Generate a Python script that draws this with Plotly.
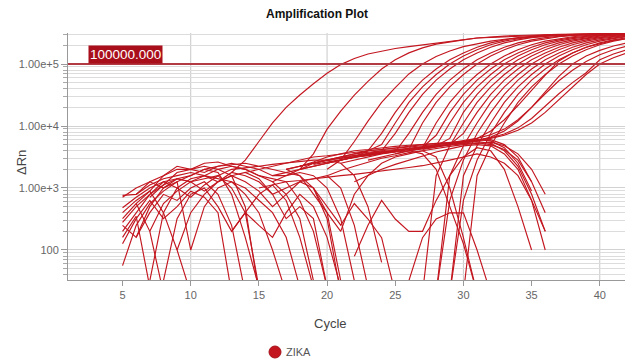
import plotly.graph_objects as go

# ---------------- data (ΔRn per cycle; each entry = (first cycle, values)) ----------------
SERIES_NAME = "ZIKA"
THRESHOLD = 100000
THRESHOLD_LABEL = "100000.000"
CYCLE_TICKS = [5, 10, 15, 20, 25, 30, 35, 40]
CYCLE_GRID = [10, 20, 30, 40]
Y_TICKS = [100, 1000, 10000, 100000]
Y_TICK_LABELS = ["100", "1.00e+3", "1.00e+4", "1.00e+5"]

EARLY_AMP = [
    (13, [1780, 2820, 5620, 11200, 20000, 31600, 47900, 70800, 97700, 123000, 145000, 162000, 178000,
          191000, 204000, 219000, 234000, 251000, 263000, 269000, 275000, 282000, 288000, 295000,
          295000, 302000, 302000, 309000, 309000, 309000]),
    (18, [2000, 3550, 8910, 17400, 31600, 52500, 83200, 117000, 151000, 182000, 209000, 229000, 245000,
          263000, 275000, 282000, 288000, 295000, 295000, 302000, 302000, 302000, 309000, 309000, 309000]),
    (20, [2000, 2820, 5620, 12000, 24000, 41700, 69200, 100000, 132000, 162000, 191000, 214000, 234000,
          251000, 263000, 275000, 282000, 288000, 295000, 295000, 302000, 302000, 302000]),
]

LATE_AMP = [
    (17, [2000, 2240, 2510, 2820, 3160, 3550, 3980, 7590, 16600, 32400, 55000, 83200, 117000, 151000,
          186000, 219000, 245000, 266000, 282000, 292000, 299000, 302000, 305000, 309000, 309000, 309000]),
    (16, [1580, 1780, 2000, 2240, 2510, 2820, 3160, 3980, 5010, 11200, 24000, 42700, 67600, 100000,
          135000, 170000, 204000, 234000, 257000, 275000, 288000, 295000, 302000, 305000, 309000,
          309000, 309000]),
    (18, [2240, 2510, 2820, 3020, 3310, 3550, 3980, 7590, 16600, 32400, 55000, 83200, 117000, 151000,
          186000, 219000, 245000, 266000, 282000, 292000, 299000, 302000, 305000, 309000, 309000]),
    (19, [2400, 2630, 2880, 3160, 3390, 3630, 3800, 7590, 16600, 32400, 55000, 83200, 117000, 151000,
          186000, 219000, 245000, 266000, 282000, 292000, 299000, 302000, 305000, 309000]),
    (18, [2000, 2240, 2510, 2820, 3160, 3310, 3550, 3800, 4170, 11200, 24000, 42700, 67600, 100000,
          135000, 170000, 204000, 234000, 257000, 275000, 288000, 295000, 302000, 305000, 309000]),
    (21, [2820, 3160, 3470, 3720, 3980, 4170, 4470, 11200, 24000, 42700, 67600, 100000, 135000, 170000,
          204000, 234000, 257000, 275000, 288000, 295000, 302000, 305000]),
    (22, [3160, 3470, 3800, 3980, 4270, 4570, 7080, 16600, 32400, 55000, 83200, 117000, 151000, 186000,
          219000, 245000, 266000, 282000, 292000, 299000, 302000]),
    (20, [2510, 2820, 3160, 3550, 3800, 3980, 4170, 4470, 4790, 11200, 24000, 42700, 67600, 100000,
          135000, 170000, 204000, 234000, 257000, 275000, 288000, 295000, 302000]),
    (23, [3550, 3800, 3980, 4270, 4570, 4790, 6310, 16600, 32400, 55000, 83200, 117000, 151000, 186000,
          219000, 245000, 266000, 282000, 292000, 299000]),
    (27, [20, 1580, 4790, 11200, 24000, 42700, 67600, 100000, 135000, 170000, 204000, 234000, 257000,
          275000, 288000, 295000]),
    (21, [3160, 3310, 3550, 3800, 3980, 4170, 4470, 4790, 5010, 7590, 16600, 32400, 55000, 83200,
          117000, 151000, 186000, 219000, 245000, 266000, 282000, 292000]),
    (28, [20, 1580, 4790, 11200, 24000, 42700, 67600, 100000, 135000, 170000, 204000, 234000, 257000,
          275000, 288000]),
    (28, [20, 631, 2820, 7590, 16600, 32400, 55000, 83200, 117000, 151000, 186000, 219000, 245000,
          266000, 282000]),
    (29, [20, 1580, 4790, 11200, 24000, 42700, 67600, 100000, 135000, 170000, 204000, 234000, 257000,
          275000]),
    (29, [20, 631, 2820, 7590, 16600, 32400, 55000, 83200, 117000, 151000, 186000, 219000, 245000,
          266000]),
    (23, [2820, 3160, 3550, 3980, 4270, 4570, 5010, 5500, 6310, 8320, 12600, 21400, 38000, 66100,
          112000, 151000, 186000, 214000, 240000, 257000]),
    (30, [20, 1580, 4790, 11200, 24000, 42700, 67600, 100000, 135000, 170000, 204000, 234000, 257000]),
    (22, [3550, 3800, 3980, 4170, 4370, 4570, 4790, 5010, 5250, 5750, 6610, 8320, 12000, 20000, 35500,
          63100, 100000, 135000, 166000, 195000, 219000]),
    (25, [3550, 3980, 4470, 5010, 5370, 5750, 6310, 7240, 8910, 12600, 20000, 33100, 53700, 79400,
          110000, 141000, 170000, 195000]),
    (26, [3980, 4370, 4790, 5130, 5500, 5890, 6460, 7410, 9330, 13200, 20900, 33100, 50100, 72400,
          117000, 145000, 170000]),
    (27, [4170, 4570, 5010, 5370, 5890, 6310, 7080, 8510, 11200, 16600, 26300, 42700, 67600, 100000,
          126000, 151000]),
]

BAND = [
    (14, [1780, 2000, 2240, 2510, 2820, 3160, 3310, 3550, 3800, 3980, 4170, 4370, 4570, 4790, 5010,
          5250, 5500, 5620, 5250, 3980, 2240, 794, 200]),
    (16, [1260, 1580, 2000, 2510, 2820, 3160, 3550, 3980, 4170, 4470, 4790, 5010, 5250, 5370, 5620,
          5890, 6030, 5010, 3160, 1260]),
    (18, [2240, 2510, 2820, 3020, 3160, 3390, 3630, 3980, 4270, 4570, 4790, 5010, 5250, 5370, 5010,
          4170, 2820, 1260, 400]),
    (20, [1580, 1910, 2240, 2630, 3020, 3310, 3720, 3980, 4370, 4680, 5010, 5250, 5500, 4790, 3550,
          2000, 794]),
    (22, [1260, 1580, 2000, 2400, 2820, 3310, 3800, 4270, 4790, 5010, 4790, 3550, 2000, 631, 100]),
    (15, [1000, 1120, 1260, 1320, 1410, 1510, 1580, 1660, 1780, 1910, 2000, 2140, 2290, 2510, 2820,
          3160, 3550, 3160, 2510, 1580, 631, 200]),
    (17, [2000, 2240, 2630, 3160, 3550, 3980, 4170, 4470, 4680, 4900, 5010, 5250, 5370, 5620, 6030,
          5750, 4470, 2510, 891]),
    (21, [2510, 2820, 3160, 3550, 3800, 3980, 3550, 2000, 501, 126, 20]),
    (22, [79, 251, 631, 316, 200, 200, 631, 1580, 3160, 4470, 3980, 2000, 501, 100]),
    (26, [32, 158, 316, 398, 398, 100, 20]),
    (17, [2000, 1580, 794, 398, 200, 794, 1580, 2510, 3160, 3550, 3980, 3160, 1000, 158, 20]),
    (19, [1000, 501, 251, 562, 316, 158, 20]),
]

NOISE = [
    (5, [760, 790, 1120, 1410, 1580, 1780, 1580, 1410, 1260, 790, 400, 100, 20]),
    (5, [480, 710, 1000, 1260, 1410, 1260, 1580, 2000, 2240, 2000, 1580, 1410, 1260, 630, 200, 25]),
    (5, [200, 400, 790, 1260, 1000, 710, 1120, 1580, 1000, 400, 25]),
    (5, [56, 250, 560, 890, 1260, 1580, 2000, 2240, 2510, 2240, 2000, 1580, 1580, 1780, 1580, 1000,
         320, 32]),
    (5, [320, 560, 200, 20]),
    (6, [160, 500, 1000, 1260, 100, 500, 1000, 1260, 1000, 630, 400, 160, 25]),
    (5, [400, 630, 890, 400, 100, 20]),
    (6, [560, 890, 1580, 2000, 2000, 2240, 2000, 1580, 500, 20]),
    (7, [710, 1120, 1780, 2000, 1780, 2240, 2400, 2510, 2240, 2000, 1780, 1580, 1000, 400, 32]),
    (5, [250, 160, 400, 790, 630, 1000, 1260, 790, 250, 20]),
    (5, [160, 350, 25]),
    (7, [32, 400, 1000, 1410, 1580, 1260, 1780, 1580, 1260, 790, 1000, 1260, 1410, 1580, 1000, 250, 25]),
    (8, [32, 320, 790, 1000, 500, 200, 400, 790, 1120, 630, 160, 25]),
    (5, [710, 1000, 1260, 1000, 1410, 1580, 2000, 1780, 790, 160, 25]),
    (9, [100, 400, 790, 1260, 1580, 1780, 1410, 790, 320, 500, 320, 25]),
    (13, [200, 400, 250, 160, 400, 790, 500, 160, 25]),
    (6, [790, 1260, 1580, 2240, 2000, 2510, 2630, 2240, 2000, 1580, 1260, 790, 320, 32]),
    (5, [126, 320, 630, 320, 500, 890, 710, 400, 20]),
    (7, [200, 560, 890, 1260, 1410, 1580, 2000, 2090, 2240, 2400, 2510, 2630, 2820, 2820, 2510, 1580,
         500, 63]),
    (5, [280, 500, 790, 1120, 1410, 1260, 890, 1260, 1580, 1260, 890, 500, 790, 1260, 1000, 320, 20]),
]

# ---------------- styling ----------------
LINE_COLOR = "#c3161f"
FONT = "Liberation Sans, Arial, sans-serif"
W, H = 625, 362
ML, MR, MT, MB = 68, 0, 33, 82
PW, PH = W - ML - MR, H - MT - MB


def px_x(p):
    return (p - ML) / PW


def px_y(p):
    return (H - MB - p) / PH


fig = go.Figure()

for group in (NOISE, BAND, EARLY_AMP, LATE_AMP):
    for start, vals in group:
        fig.add_trace(go.Scatter(
            x=list(range(start, start + len(vals))), y=vals, mode="lines",
            line=dict(color=LINE_COLOR, width=1.15), hoverinfo="skip", showlegend=False,
        ))

minor_vals = [m * 10 ** e for e in range(1, 6) for m in range(2, 10)]

fig.update_layout(
    width=W, height=H, margin=dict(l=ML, r=MR, t=MT, b=MB),
    paper_bgcolor="white", plot_bgcolor="white", showlegend=False,
    font=dict(family=FONT, color="#555", size=11),
    xaxis=dict(range=[1.0, 41.85], tickvals=CYCLE_TICKS, ticks="outside", ticklen=5,
               tickcolor="#999", showline=True, linecolor="#999", showgrid=False,
               zeroline=False, tickfont=dict(size=11, color="#666")),
    yaxis=dict(type="log", range=[1.516, 5.5], tickvals=Y_TICKS, ticktext=Y_TICK_LABELS,
               ticks="outside", ticklen=6, tickcolor="#999", showline=True, linecolor="#999",
               showgrid=True, gridcolor="#d2d2d2", zeroline=False,
               tickfont=dict(size=11, color="#666"),
               minor=dict(tickvals=minor_vals, ticks="outside", ticklen=4, tickcolor="#aaa",
                          showgrid=True, gridcolor="#dcdcdc")),
)

shapes = []
for g in CYCLE_GRID:
    shapes.append(dict(type="line", xref="x", yref="paper", x0=g, x1=g, y0=0, y1=1,
                       line=dict(color="#c8c8c8", width=1), layer="below"))
shapes.append(dict(type="line", xref="paper", yref="y", x0=0, x1=1, y0=THRESHOLD, y1=THRESHOLD,
                   line=dict(color="#b23a43", width=2), layer="above"))
# legend marker
shapes.append(dict(type="circle", xref="paper", yref="paper", xsizemode="pixel", ysizemode="pixel",
                   xanchor=px_x(275), yanchor=px_y(352), x0=-6, x1=6, y0=-6, y1=6,
                   fillcolor=LINE_COLOR, line=dict(color="#a8121a", width=1)))
fig.update_layout(shapes=shapes)

ann = [
    dict(text="<b>Amplification Plot</b>", xref="paper", yref="paper", x=px_x(317), y=px_y(14),
         showarrow=False, font=dict(size=12, color="#111", family=FONT), xanchor="center",
         yanchor="middle"),
    dict(text=THRESHOLD_LABEL, xref="paper", yref="y", x=px_x(88), y=5.0, xanchor="left",
         yanchor="bottom", showarrow=False, bgcolor="#a90f1b", borderpad=1,
         font=dict(size=13.5, color="white", family=FONT)),
    dict(text="Cycle", xref="paper", yref="paper", x=px_x(330), y=px_y(323), showarrow=False,
         font=dict(size=13, color="#444", family=FONT), xanchor="center", yanchor="middle"),
    dict(text="ΔRn", xref="paper", yref="paper", x=px_x(22), y=px_y(162), showarrow=False,
         textangle=-90, font=dict(size=13, color="#444", family=FONT), xanchor="center",
         yanchor="middle"),
    dict(text=SERIES_NAME, xref="paper", yref="paper", x=px_x(284), y=px_y(352), showarrow=False,
         font=dict(size=11, color="#555", family=FONT), xanchor="left", yanchor="middle"),
]
fig.update_layout(annotations=ann)

fig.write_html("out.html")
